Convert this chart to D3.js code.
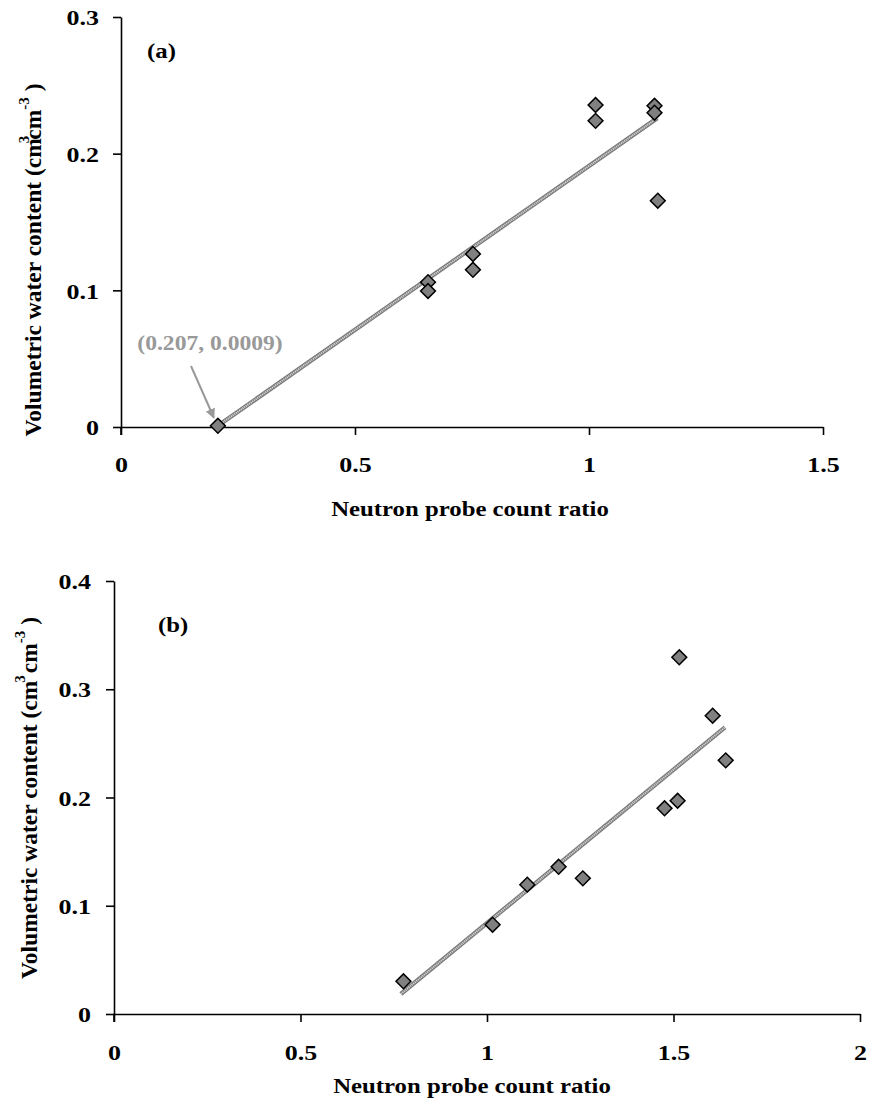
<!DOCTYPE html>
<html><head><meta charset="utf-8">
<script src="https://cdn.jsdelivr.net/npm/d3@7"></script>
<style>
body{margin:0;background:#fff;}
svg text{font-family:"Liberation Serif","Times New Roman",serif;font-weight:bold;}
</style></head>
<body><svg id="c" width="870" height="1099"></svg>
<script>
// ---- Data ----
const xTicksA = [0, 0.5, 1, 1.5];
const yTicksA = [0, 0.1, 0.2, 0.3];
const ratioA = [0.207, 0.656, 0.656, 0.752, 0.752, 1.014, 1.014, 1.140, 1.140, 1.147];
const waterA = [0.0009, 0.106, 0.0995, 0.1266, 0.115, 0.2356, 0.224, 0.235, 0.230, 0.1656];
const fitXA = [0.207, 1.146];
const fitYA = [0.0009, 0.226];
const annotA = "(0.207, 0.0009)";

const xTicksB = [0, 0.5, 1, 1.5, 2];
const yTicksB = [0, 0.1, 0.2, 0.3, 0.4];
const ratioB = [0.776, 1.015, 1.108, 1.192, 1.257, 1.476, 1.511, 1.5155, 1.605, 1.640];
const waterB = [0.0302, 0.0825, 0.1195, 0.136, 0.1253, 0.190, 0.197, 0.3295, 0.2756, 0.2343];
const fitXB = [0.769, 1.638];
const fitYB = [0.0185, 0.2648];

const xTitle = "Neutron probe count ratio";

const SX = 1.18; // horizontal stretch of the lettering
const svg = d3.select("#c");

function htext(g, x, y, size, txt, anchor, fill){
  return g.append("text").attr("transform",`translate(${x},${y}) scale(${SX},1)`)
    .attr("text-anchor",anchor||"start").style("font-size",size+"px")
    .attr("fill",fill||"#000").text(txt);
}

function panel(o){
  const g = svg.append("g");
  const x = d3.scaleLinear().domain(o.xd).range(o.xr);
  const y = d3.scaleLinear().domain(o.yd).range(o.yr);
  const xa = d3.axisBottom(x).tickValues(o.xt).tickSize(8).tickSizeOuter(0).tickFormat(d3.format("~g"));
  const ya = d3.axisLeft(y).tickValues(o.yt).tickSize(8).tickSizeOuter(0).tickFormat(d3.format("~g"));
  const gx = g.append("g").attr("transform",`translate(0,${o.yr[0]})`).call(xa);
  const gy = g.append("g").attr("transform",`translate(${o.xr[0]},0)`).call(ya);
  [gx,gy].forEach(a=>{
    a.select(".domain").attr("stroke","#000").attr("stroke-width",1.6);
    a.selectAll(".tick line").attr("stroke","#000").attr("stroke-width",1.6);
    a.selectAll("text").attr("fill","#000").style("font-size",o.fs+"px")
      .style("font-family","'Liberation Serif',serif").style("font-weight","bold");
  });
  g.append("line").attr("x1",o.xr[0]).attr("x2",o.xr[0]).attr("y1",o.yr[0]).attr("y2",o.yr[0]+8)
    .attr("stroke","#000").attr("stroke-width",1.6);
  gx.selectAll("text").attr("dy",null).attr("y",0).attr("x",0)
    .attr("transform",`translate(0,${o.xlab}) scale(${SX},1)`);
  gy.selectAll("text").attr("x",0).attr("dy","0.35em")
    .attr("transform",`translate(${-o.ylab},0) scale(${SX},1)`);
  // fit line
  const line = d3.line().x(d=>x(d[0])).y(d=>y(d[1]));
  const pts = d3.zip(o.fx,o.fy);
  g.append("path").attr("d",line(pts)).attr("stroke","#7a7a7a").attr("stroke-width",4.4).attr("fill","none");
  g.append("path").attr("d",line(pts)).attr("stroke","#d4d4d4").attr("stroke-width",2).attr("stroke-dasharray","1.2,0.8").attr("fill","none");
  // points
  const sym = d3.symbol().type(d3.symbolSquare).size(110);
  g.selectAll("path.pt").data(d3.zip(o.px,o.py)).join("path").attr("class","pt")
    .attr("d",sym).attr("transform",d=>`translate(${x(d[0])},${y(d[1])}) rotate(45)`)
    .attr("fill","#808080").attr("stroke","#000").attr("stroke-width",1.5);
  // y title
  const yt = g.append("text").attr("transform",`translate(${o.ytx},${o.yty}) rotate(-90)`)
    .attr("text-anchor","middle").style("font-size","23.5px").attr("fill","#000");
  yt.append("tspan").text("Volumetric water content (cm");
  yt.append("tspan").attr("dy",-12).attr("dx",o.supdx).style("font-size","15px").text("3");
  yt.append("tspan").attr("dy",12).attr("dx",o.supdx2).text("cm");
  yt.append("tspan").attr("dy",-12).style("font-size","15px").text("-3");
  yt.append("tspan").attr("dy",12).text(" )");
  // x title
  htext(g, o.xtx, o.xty, 21, xTitle, "middle");
  // panel label
  htext(g, o.lx, o.ly, 21, o.label, "start");
  return {g,x,y};
}

const A = panel({xd:[0,1.5],xr:[121,823],yd:[0,0.3],yr:[427,17],xt:xTicksA,yt:yTicksA,
  px:ratioA,py:waterA,fx:fitXA,fy:fitYA,fs:22,xlab:45,ylab:22,
  ytx:41,yty:260,supdx:-5,supdx2:-4,xtx:470,xty:516,lx:147,ly:58,label:"(a)"});

// annotation
htext(A.g, 210, 350, 20, annotA, "middle", "#999");
svg.append("defs").append("marker").attr("id","ah").attr("viewBox","0 0 10 10")
  .attr("refX",9).attr("refY",5).attr("markerWidth",5).attr("markerHeight",5).attr("orient","auto")
  .append("path").attr("d","M0,0L10,5L0,10z").attr("fill","#999");
A.g.append("line").attr("x1",191).attr("y1",366).attr("x2",A.x(ratioA[0])-4).attr("y2",A.y(waterA[0])-8)
  .attr("stroke","#999").attr("stroke-width",2).attr("marker-end","url(#ah)");

panel({xd:[0,2],xr:[114,860],yd:[0,0.4],yr:[1014,581],xt:xTicksB,yt:yTicksB,
  px:ratioB,py:waterB,fx:fitXB,fy:fitYB,fs:22,xlab:46,ylab:23,
  ytx:37,yty:798,supdx:-2,supdx2:2,xtx:472,xty:1093,lx:158,ly:632,label:"(b)"});
</script></body></html>
